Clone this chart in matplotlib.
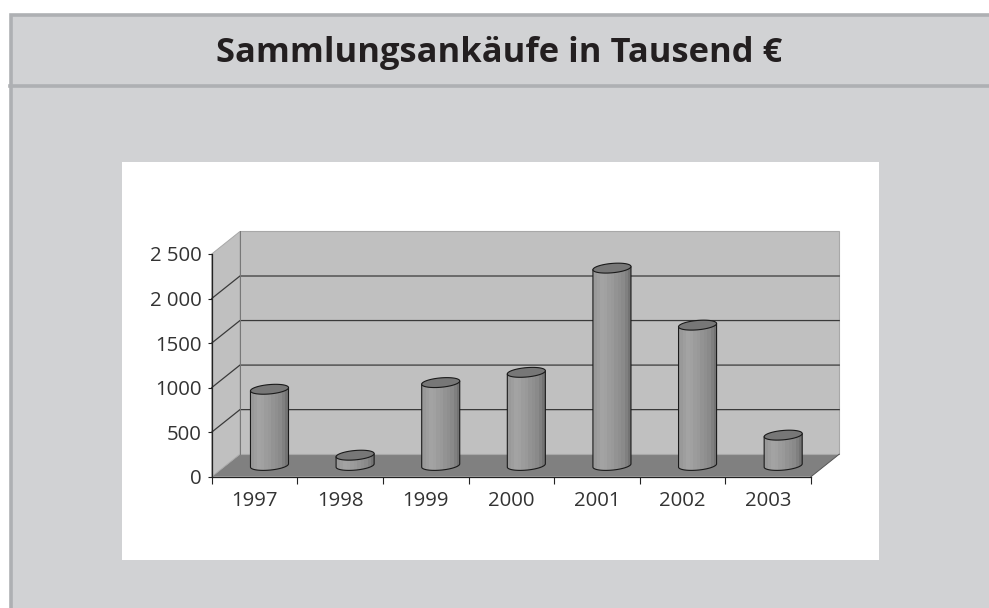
import numpy as np
import matplotlib
matplotlib.use('Agg')
import matplotlib.pyplot as plt
from matplotlib.patches import Polygon, Rectangle

years = ['1997', '1998', '1999', '2000', '2001', '2002', '2003']
values = [855, 115, 930, 1045, 2215, 1575, 340]
y_ticks = [0, 500, 1000, 1500, 2000, 2500]
y_labels = ['0', '500', '1000', '1500', '2 000', '2 500']
title = 'Sammlungsankäufe in Tausend €'

W, H = 989, 608
BG = '#d1d2d4'
RULE = '#aeb0b3'
INK = '#231f20'

plt.rcParams['font.family'] = ['Open Sans', 'DejaVu Sans']

fig = plt.figure(figsize=(W / 100, H / 100), dpi=100)

# page furniture, in pixels from the top left
page = fig.add_axes([0, 0, 1, 1])
page.set_xlim(0, W)
page.set_ylim(H, 0)
page.axis('off')
page.add_patch(Rectangle((11, 14.5), W, H, fc=BG, ec=RULE, lw=2.6))
page.plot([10, W], [86, 86], color=RULE, lw=2.6)
page.add_patch(Rectangle((122, 162), 757, 398, fc='white', ec='none'))
page.text(499.5, 53.5, title, ha='center', va='center', fontsize=24.8, fontweight='bold', color=INK)

# front plane of the oblique chart
ax = fig.add_axes([211.7 / W, 1 - 476.7 / H, 599.3 / W, 222.7 / H])
ax.set_xlim(0, len(years))
ax.set_ylim(0, 2500)
ax.patch.set_visible(False)
for s in ['top', 'right']:
    ax.spines[s].set_visible(False)
for s in ['left', 'bottom']:
    ax.spines[s].set_color('#222222')
    ax.spines[s].set_linewidth(0.9)
ax.set_xticks(np.arange(len(years) + 1))
ax.set_xticklabels([])
ax.set_xticks(np.arange(len(years)) + 0.5, years, minor=True)
ax.set_yticks(y_ticks, y_labels)
ax.tick_params(axis='x', which='major', length=5, width=0.8, color='#222222')
ax.tick_params(axis='x', which='minor', length=0, pad=10.5, labelsize=14.7, labelcolor='#333333')
ax.tick_params(axis='y', length=3, width=0.8, pad=4, labelsize=14.7, labelcolor='#333333', color='#222222')

# depth vector in data units
DX, DY = 0.33, 253
n = len(years)

ax.add_patch(Polygon([(0, 0), (DX, DY), (n + DX, DY), (n, 0)], fc='#808080', ec='none', clip_on=False, zorder=1))
ax.add_patch(Polygon([(0, 0), (DX, DY), (DX, 2500 + DY), (0, 2500)], fc='#c0c0c0', ec='#a8a8a8', lw=0.7, clip_on=False, zorder=1))
ax.add_patch(Rectangle((DX, DY), n, 2500, fc='#c0c0c0', ec='#a8a8a8', lw=0.8, clip_on=False, zorder=1))
for t in y_ticks[1:-1]:
    ax.plot([0, DX, n + DX], [t, t + DY, t + DY], color='#3a3a3a', lw=0.9, clip_on=False, zorder=2)
ax.plot([DX, DX], [DY, 2500 + DY], color='#777777', lw=0.7, clip_on=False, zorder=2)
ax.plot([n, n + DX], [0, DY], color='#555555', lw=0.7, clip_on=False, zorder=2)

# cylinders
RX = 0.21
F = 0.22
stripes = np.array([0.60, 0.62, 0.64, 0.63, 0.61, 0.60, 0.58, 0.56, 0.54, 0.50, 0.45])[None, :]
tt = np.linspace(0, 2 * np.pi, 121)[:-1]


def ring(cx, cy):
    return np.column_stack([cx + RX * np.cos(tt) + F * DX * np.sin(tt), cy + F * DY * np.sin(tt)])


for i, v in enumerate(values):
    cx = i + 0.51 + DX / 2
    cy = DY / 2
    top = ring(cx, cy + v)
    bot = ring(cx, cy)
    left, right = bot[:, 0].argmin(), bot[:, 0].argmax()
    # front arc of the base, right edge round to the left edge
    idx = [(right - k) % len(tt) for k in range(((right - left) % len(tt)) + 1)]
    arc = bot[idx]
    body = np.vstack([arc, top[left], top[right]])
    im = ax.imshow(stripes, cmap='gray', vmin=0, vmax=1, aspect='auto', zorder=3,
                   extent=[body[:, 0].min(), body[:, 0].max(), 0, cy + v + 60], interpolation='nearest')
    im.set_clip_path(Polygon(body, transform=ax.transData))
    ax.add_patch(Polygon(body, fc='none', ec='#1a1a1a', lw=0.8, clip_on=False, zorder=4))
    ax.add_patch(Polygon(top, fc='#777777', ec='#1a1a1a', lw=0.8, clip_on=False, zorder=5))

ax.set_xlim(0, n)
ax.set_ylim(0, 2500)

plt.savefig('out.png', dpi=100)
